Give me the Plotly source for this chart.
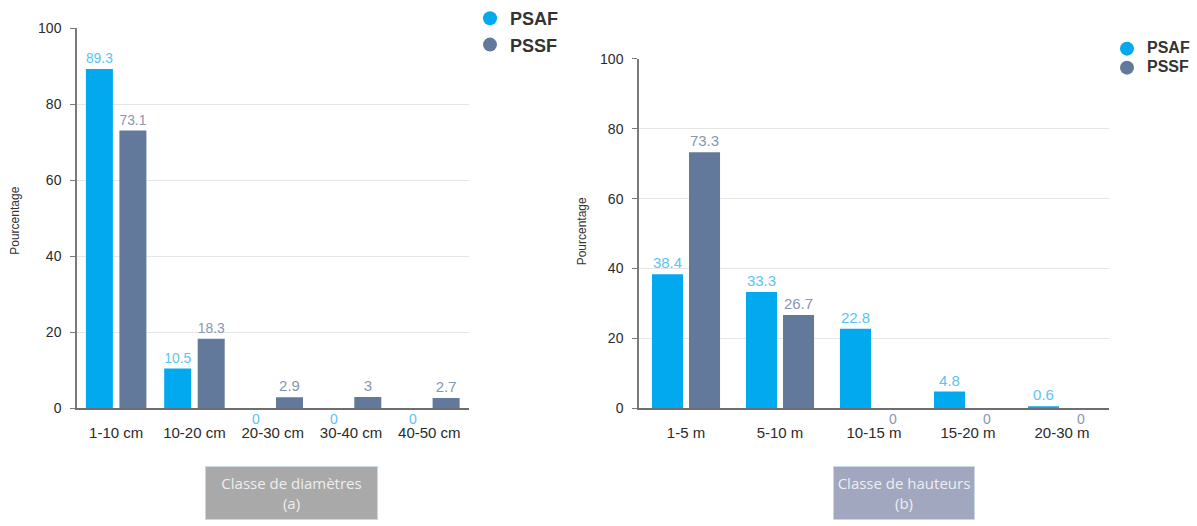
import plotly.graph_objects as go

# ---- data -------------------------------------------------------------
diam_classes = ["1-10 cm", "10-20 cm", "20-30 cm", "30-40 cm", "40-50 cm"]
diam_psaf = [89.3, 10.5, 0, 0, 0]
diam_pssf = [73.1, 18.3, 2.9, 3, 2.7]

haut_classes = ["1-5 m", "5-10 m", "10-15 m", "15-20 m", "20-30 m"]
haut_psaf = [38.4, 33.3, 22.8, 4.8, 0.6]
haut_pssf = [73.3, 26.7, 0, 0, 0]

y_ticks = [0, 20, 40, 60, 80, 100]

# ---- style ------------------------------------------------------------
W, H = 1197, 526
C_PSAF, C_PSSF = "#03a9ee", "#63799b"
L_PSAF, L_PSSF = "#5cc3f2", "#8597b3"
FONT = "Liberation Sans, Arial, sans-serif"

panels = [
    dict(cats=diam_classes, psaf=diam_psaf, pssf=diam_pssf, xa="x", ya="y",
         dom_px=(77, 468.5), top_px=17, slot=0.428, bar=0.345,
         title="Classe de diamètres<br>(a)", box=(205, 378), box_col="#a9a9aa",
         ytitle_px=(15, 217), legend="legend"),
    dict(cats=haut_classes, psaf=haut_psaf, pssf=haut_pssf, xa="x2", ya="y2",
         dom_px=(639, 1109), top_px=48.7, slot=0.394, bar=0.33,
         title="Classe de hauteurs<br>(b)", box=(833, 975), box_col="#a2a7c0",
         ytitle_px=(582, 228), legend="legend2"),
]
ZERO_PX = 412  # pixel row of the value 0 on both panels

fig = go.Figure()
annotations = []

for i, p in enumerate(panels):
    pad = (p["slot"] - p["bar"]) / 2
    px_per_cat = (p["dom_px"][1] - p["dom_px"][0]) / len(p["cats"])
    for name, vals, col, lcol, off, sign in [
        ("PSAF", p["psaf"], C_PSAF, L_PSAF, -p["slot"] + pad, -1),
        ("PSSF", p["pssf"], C_PSSF, L_PSSF, pad, 1),
    ]:
        fig.add_trace(go.Bar(
            x=p["cats"], y=vals, name=name, xaxis=p["xa"], yaxis=p["ya"],
            marker=dict(color=col, line=dict(width=0)),
            width=p["bar"], offset=off,
            text=[f"{v:g}" if v else "" for v in vals],
            textposition="outside", cliponaxis=False,
            textfont=dict(family=FONT, size=15, color=lcol),
            showlegend=False, hoverinfo="x+y",
        ))
        # zero values are labelled just beneath the baseline
        for c, v in zip(p["cats"], vals):
            if v == 0:
                annotations.append(dict(
                    x=c, y=v, xref=p["xa"], yref=p["ya"], text="0",
                    showarrow=False, yanchor="top", yshift=-1,
                    xshift=sign * p["slot"] / 2 * px_per_cat,
                    font=dict(family=FONT, size=14, color=lcol),
                ))
        # legend entries drawn as round markers
        fig.add_trace(go.Scatter(
            x=[None], y=[None], mode="markers", name=name,
            xaxis=p["xa"], yaxis=p["ya"], legend=p["legend"],
            legendgroup=f"{p['legend']}_{name}",
            marker=dict(color=col, size=14, symbol="circle"),
        ))

    # axis title boxes
    bx0, bx1 = p["box"]
    annotations.append(dict(
        x=(bx0 + bx1) / 2 / W, y=1 - 500 / H, xref="paper", yref="paper",
        text=p["title"], showarrow=False, xanchor="center", yanchor="middle",
        width=bx1 - bx0 - 4, height=50, bgcolor=p["box_col"],
        bordercolor="#c9d9e2", borderwidth=1, borderpad=1,
        font=dict(family="Open Sans, sans-serif", size=15, color="#eeeeee"),
    ))
    # y axis title
    tx, ty = p["ytitle_px"]
    annotations.append(dict(
        x=tx / W, y=1 - ty / H, xref="paper", yref="paper", text="Pourcentage",
        showarrow=False, textangle=-90, xanchor="center", yanchor="middle",
        font=dict(family=FONT, size=12, color="#333333"),
    ))

axis_common_x = dict(
    type="category", showgrid=False, showline=True, linecolor="#6e6e6e",
    linewidth=2, ticks="", ticklabelstandoff=10,
    tickfont=dict(family=FONT, size=15, color="#2a2a2a"), fixedrange=True,
)
axis_common_y = dict(
    range=[0, 100], tickvals=y_ticks, showgrid=True, gridcolor="#e6e6e6",
    gridwidth=1, showline=True, linecolor="#7a7a7a", linewidth=1.5,
    ticks="outside", ticklen=5, tickcolor="#7a7a7a", ticklabelstandoff=6,
    tickfont=dict(family=FONT, size=14, color="#2a2a2a"), zeroline=False,
    fixedrange=True,
)

layout = dict(
    width=W, height=H, margin=dict(l=0, r=0, t=0, b=0),
    paper_bgcolor="white", plot_bgcolor="white", barmode="group",
    annotations=annotations,
    legend=dict(x=470 / W, y=1 + 13 / H, xanchor="left", yanchor="top",
                font=dict(family=FONT, size=18, color="#333333", weight="bold"),
                tracegroupgap=0, bgcolor="rgba(0,0,0,0)", itemclick=False),
    legend2=dict(x=1107 / W, y=1 - 23 / H, xanchor="left", yanchor="top",
                 font=dict(family=FONT, size=11, color="#333333", weight="bold"),
                 tracegroupgap=0, bgcolor="rgba(0,0,0,0)", itemclick=False),
)
for p in panels:
    sfx = p["xa"][1:]
    x0, x1 = p["dom_px"]
    layout[f"xaxis{sfx}"] = dict(axis_common_x, domain=[x0 / W, x1 / W], anchor=p["ya"])
    layout[f"yaxis{sfx}"] = dict(axis_common_y, domain=[1 - ZERO_PX / H, 1 - p["top_px"] / H],
                                 anchor=p["xa"])

fig.update_layout(**layout)
# enlarge the second legend's labels while keeping its rows compact
for tr in fig.data:
    if getattr(tr, "legend", None) == "legend2":
        tr.name = f'<span style="font-size:16px">{tr.name}</span>'

fig.write_html("out.html", config={"displayModeBar": False})
